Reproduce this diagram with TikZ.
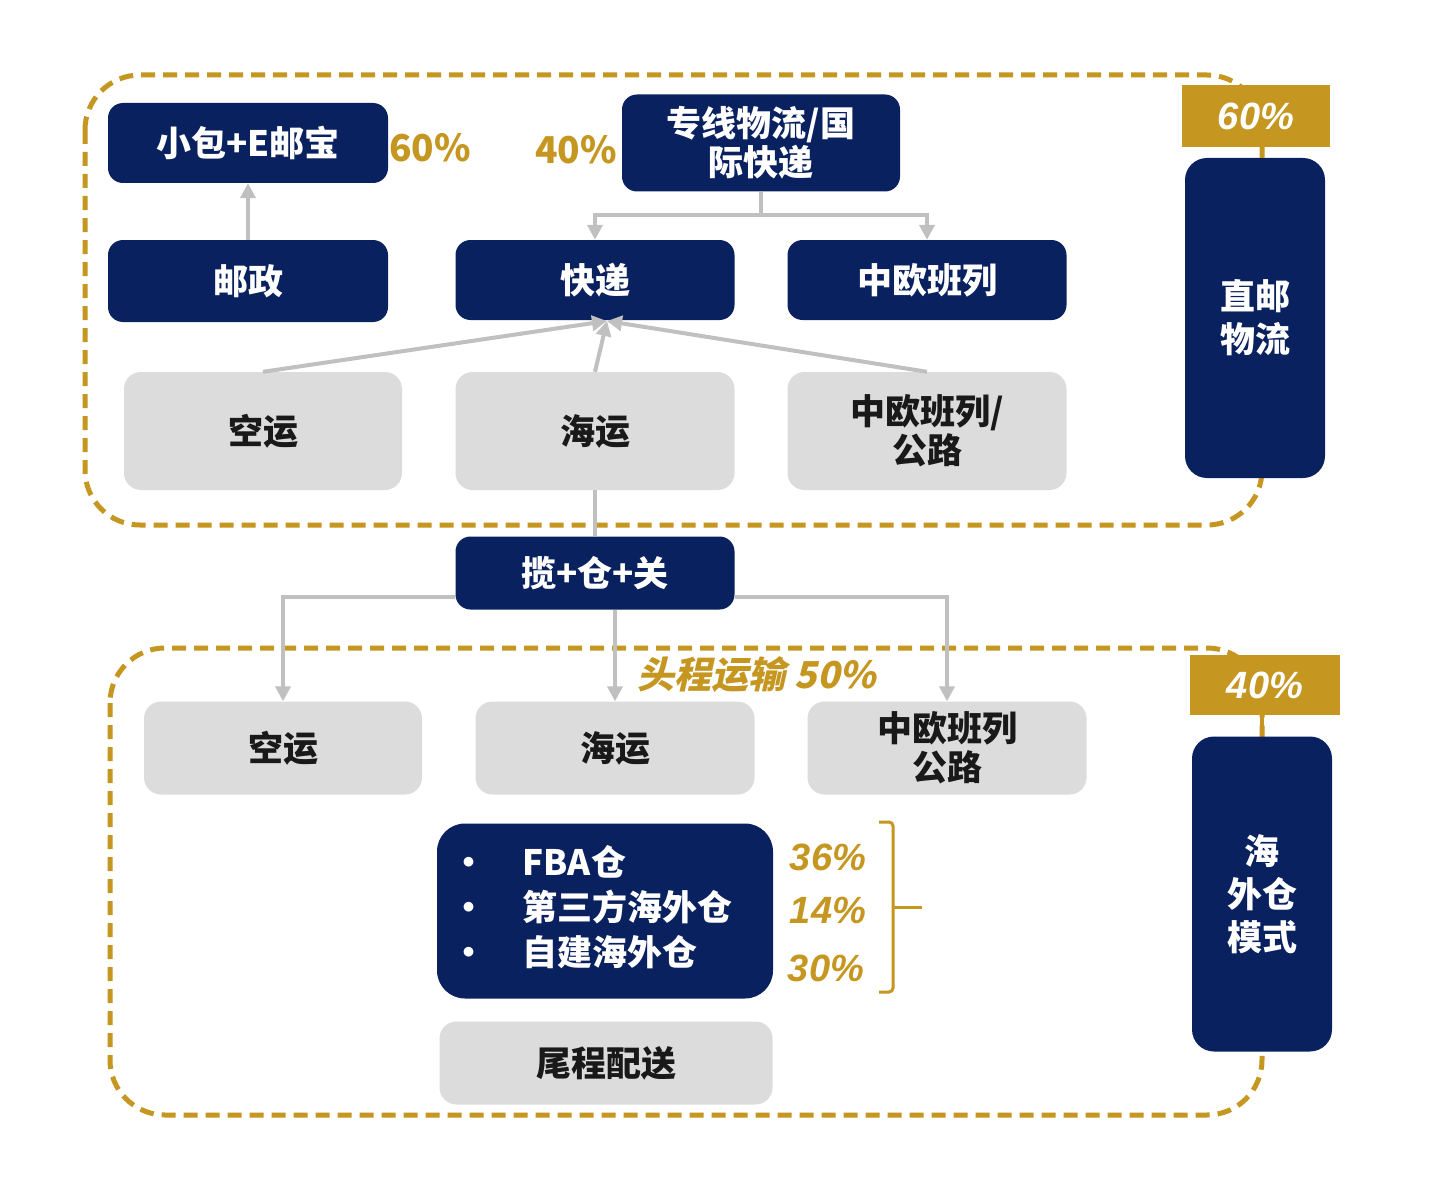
\documentclass[tikz,border=0pt]{standalone}
\usepackage{fontspec}
\setmainfont{Noto Sans CJK SC}
\newfontfamily\latit{Liberation Sans}
\newfontfamily\cjksl{Noto Sans CJK SC}[FakeSlant=0.22, BoldFeatures={FakeSlant=0.22}]
\usetikzlibrary{arrows.meta}
\definecolor{navy}{RGB}{10,33,96}
\definecolor{gold}{RGB}{197,150,32}
\definecolor{boxgray}{RGB}{220,220,220}
\definecolor{linegray}{RGB}{192,192,192}
\definecolor{darktext}{RGB}{25,25,25}
\begin{document}
\begin{tikzpicture}[x=1pt,y=-1pt,
  navybox/.style={fill=navy, rounded corners=15pt, text=white, font=\bfseries\fontsize{35}{43}\selectfont, align=center, inner sep=0pt},
  graybox/.style={fill=boxgray, rounded corners=17pt, text=darktext, font=\bfseries\fontsize{35}{43}\selectfont, align=center, inner sep=0pt},
  goldbox/.style={fill=gold, text=white, font=\latit\bfseries\itshape\fontsize{38}{44}\selectfont, inner sep=0pt},
  pct/.style={text=gold, font=\latit\bfseries\itshape\fontsize{38}{44}\selectfont, inner sep=0pt},
  pctup/.style={text=gold, font=\bfseries\fontsize{37}{44}\selectfont, inner sep=0pt},
  conn/.style={draw=linegray, line width=4pt},
  tip/.style={-{Triangle[length=15pt,width=15pt]}},
  border/.style={draw=gold, line width=5pt, dash pattern=on 14pt off 8pt, rounded corners=55pt},
  goldlink/.style={draw=gold, line width=4pt}]
\useasboundingbox (0,0) rectangle (1444,1204);
\fill[white] (0,0) rectangle (1444,1204);

% dashed group borders
\draw[border] (85,75) rectangle (1262,525);
\draw[border] (110,648) rectangle (1262,1115);

% upper group
\node[navybox, minimum width=280pt, minimum height=80pt] (xb) at (248,143) {小包+E邮宝};
\node[navybox, minimum width=278pt, minimum height=97pt] (zx) at (761,143) {专线物流/国\\[-4pt]际快递};
\node[navybox, minimum width=280pt, minimum height=82pt] (yz) at (248,281) {邮政};
\node[navybox, minimum width=279pt, minimum height=80pt] (kd) at (595,280) {快递};
\node[navybox, minimum width=279pt, minimum height=80pt] (zo) at (927,280) {中欧班列};
\node[graybox, minimum width=278pt, minimum height=118pt] (ky1) at (263,431) {空运};
\node[graybox, minimum width=279pt, minimum height=118pt] (hy1) at (595,431) {海运};
\node[graybox, minimum width=279pt, minimum height=118pt] (zg1) at (927,431) {中欧班列/\\[-4pt]公路};
\node[pctup, anchor=west] (p60a) at (389,148) {60\%};
\node[pctup, anchor=east] (p40a) at (617,150) {40\%};

\node[goldbox, minimum width=148pt, minimum height=62pt] (p60) at (1256,116) {60\%};
\node[navybox, minimum width=140pt, minimum height=320pt, rounded corners=22pt] (zy) at (1255,318) {直邮\\物流};

% middle
\node[navybox, minimum width=279pt, minimum height=73pt] (lcg) at (595,573) {揽+仓+关};

% lower group
\node[text=gold, font=\cjksl\bfseries\fontsize{37}{44}\selectfont, inner sep=0pt] (tc) at (757,675) {头程运输 50\%};
\node[graybox, minimum width=278pt, minimum height=93pt] (ky2) at (283,748) {空运};
\node[graybox, minimum width=279pt, minimum height=93pt] (hy2) at (615,748) {海运};
\node[graybox, minimum width=279pt, minimum height=93pt] (zg2) at (947,748) {中欧班列\\[-4pt]公路};
\node[navybox, minimum width=336pt, minimum height=175pt, rounded corners=28pt, align=left, font=\bfseries\fontsize{35}{45}\selectfont] (fba) at (605,911)
  {\begin{tabular}{@{}c@{\hspace{36pt}}l@{\hspace{26pt}}}
   \makebox[35pt]{\textbullet} & FBA仓\\
   \makebox[35pt]{\textbullet} & 第三方海外仓\\
   \makebox[35pt]{\textbullet} & 自建海外仓
   \end{tabular}};
\node[graybox, minimum width=333pt, minimum height=83pt] (wc) at (606,1063) {尾程配送};
\node[pct] (p36) at (828,857) {36\%};
\node[pct] (p14) at (828,910) {14\%};
\node[pct] (p30) at (826,968) {30\%};
\draw[gold, line width=3pt, rounded corners=4pt] (879,822) -- (893,822) -- (893,992) -- (879,992);
\draw[gold, line width=3pt] (893,907) -- (922,907);

\node[goldbox, minimum width=150pt, minimum height=60pt] (p40) at (1265,685) {40\%};
\node[navybox, minimum width=140pt, minimum height=315pt, rounded corners=22pt] (hw) at (1262,894) {海\\外仓\\模式};

% gold links
\draw[goldlink] (p60.south -| 1262,0) -- (zy.north -| 1262,0);
\draw[goldlink] (p40.south -| 1262,0) -- (hw.north -| 1262,0);

% connectors
\draw[conn, tip] (yz.north) -- (xb.south);
\draw[conn, tip] (zx.south) -- ++(0,23) -| (kd.north);
\draw[conn, tip] (zx.south) -- ++(0,23) -| (zo.north);
\coordinate (kdin) at (607,321);
\draw[conn, tip] (ky1.north) -- (kdin);
\draw[conn, tip] (hy1.north) -- (kdin);
\draw[conn, tip] (zg1.north) -- (kdin);
\draw[conn] (hy1.south) -- (lcg.north);
\draw[conn, tip] ([yshift=-24pt]lcg.west) -| (ky2.north);
\draw[conn, tip] ([yshift=-24pt]lcg.east) -| (zg2.north);
\draw[conn, tip] (hy2.north |- lcg.south) -- (hy2.north);
\end{tikzpicture}
\end{document}
